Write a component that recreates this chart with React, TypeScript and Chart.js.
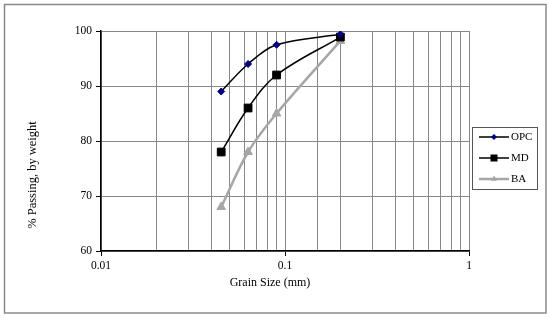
import React, { useEffect, useRef } from "react";
import { Chart, registerables } from "chart.js";

Chart.register(...registerables);

const grainSizes = [0.045, 0.063, 0.09, 0.2];
const opcValues = [89, 94, 97.5, 99.4];
const mdValues = [78, 86, 92, 98.9];
const baValues = [68, 78, 85, 98.2];
const seriesLabels = ["OPC", "MD", "BA"];
const xTitle = "Grain Size (mm)";
const yTitle = "% Passing, by weight";
const yMin = 60;
const yMax = 100;
const yStep = 10;
const xMin = 0.01;
const xMax = 1;

const FONT = "'Liberation Serif', 'Times New Roman', serif";

const isPow10 = (v: number) => Math.abs(Math.log10(v) - Math.round(Math.log10(v))) < 1e-6;

const decorPlugin = {
  id: "decor",
  beforeDraw(chart: any) {
    const ctx = chart.ctx;
    ctx.save();
    ctx.fillStyle = "#ffffff";
    ctx.fillRect(0, 0, chart.width, chart.height);
    ctx.restore();
  },
  afterDraw(chart: any) {
    const ctx = chart.ctx;
    ctx.save();
    // outer frame
    ctx.strokeStyle = "#8a8a8a";
    ctx.lineWidth = 1.5;
    ctx.strokeRect(4.5, 4.5, 541.5, 308.5);

    // axis titles
    ctx.fillStyle = "#000";
    ctx.textAlign = "center";
    ctx.textBaseline = "middle";
    ctx.font = `12px ${FONT}`;
    ctx.fillText(xTitle, 270, 283);
    ctx.save();
    ctx.translate(33, 175);
    ctx.rotate(-Math.PI / 2);
    ctx.font = `12.5px ${FONT}`;
    ctx.fillText(yTitle, 0, 0);
    ctx.restore();

    // legend box
    ctx.strokeStyle = "#555";
    ctx.lineWidth = 1;
    ctx.strokeRect(472.5, 127.5, 65, 62);
    const rows = [137, 158, 179];
    chart.data.datasets.forEach((ds: any, i: number) => {
      const y = rows[i];
      ctx.strokeStyle = ds.borderColor;
      ctx.lineWidth = ds.borderWidth;
      ctx.beginPath();
      ctx.moveTo(479, y);
      ctx.lineTo(509, y);
      ctx.stroke();
      const cx = 494;
      ctx.fillStyle = ds.pointBackgroundColor;
      ctx.beginPath();
      if (ds.pointStyle === "rectRot") {
        const r = 3;
        ctx.moveTo(cx, y - r);
        ctx.lineTo(cx + r, y);
        ctx.lineTo(cx, y + r);
        ctx.lineTo(cx - r, y);
        ctx.closePath();
      } else if (ds.pointStyle === "rect") {
        ctx.rect(cx - 3.5, y - 3.5, 7, 7);
      } else {
        const r = 3.5;
        ctx.moveTo(cx, y - r);
        ctx.lineTo(cx + r * 0.87, y + r * 0.5);
        ctx.lineTo(cx - r * 0.87, y + r * 0.5);
        ctx.closePath();
      }
      ctx.fill();
      ctx.fillStyle = "#000";
      ctx.font = `11px ${FONT}`;
      ctx.textAlign = "left";
      ctx.textBaseline = "middle";
      ctx.fillText(ds.label, 511, y);
    });
    ctx.restore();
  },
};

export default function App() {
  const ref = useRef<HTMLCanvasElement | null>(null);

  useEffect(() => {
    document.body.style.margin = "0";
    const canvas = ref.current;
    if (!canvas) return;
    const mk = (vals: number[]) => grainSizes.map((x, i) => ({ x, y: vals[i] }));
    const chart = new Chart(canvas, {
      type: "line",
      data: {
        datasets: [
          {
            label: seriesLabels[0],
            data: mk(opcValues),
            borderColor: "#000000",
            borderWidth: 1.5,
            pointStyle: "rectRot",
            pointRadius: 3.5,
            pointBackgroundColor: "#000080",
            pointBorderColor: "#000080",
            pointBorderWidth: 1,
            tension: 0.35,
          },
          {
            label: seriesLabels[1],
            data: mk(mdValues),
            borderColor: "#000000",
            borderWidth: 1.5,
            pointStyle: "rect",
            pointRadius: 5.5,
            pointBackgroundColor: "#000000",
            pointBorderColor: "#000000",
            pointBorderWidth: 1,
            tension: 0.35,
          },
          {
            label: seriesLabels[2],
            data: mk(baValues),
            borderColor: "#a6a6a6",
            borderWidth: 2.5,
            pointStyle: "triangle",
            pointRadius: 5,
            pointBackgroundColor: "#a6a6a6",
            pointBorderColor: "#a6a6a6",
            pointBorderWidth: 1,
            tension: 0.35,
          },
        ] as any,
      },
      options: {
        animation: false,
        responsive: false,
        devicePixelRatio: 1,
        layout: { padding: { left: 0, top: 31, right: 81, bottom: 0 } },
        plugins: { legend: { display: false }, tooltip: { enabled: false } },
        scales: {
          x: {
            type: "logarithmic",
            min: xMin,
            max: xMax,
            afterFit: (s: any) => {
              s.height = 67;
            },
            grid: {
              color: "#888888",
              lineWidth: 1,
              tickLength: 5,
              tickColor: (c: any) => (c.tick && isPow10(c.tick.value) ? "#000" : "rgba(0,0,0,0)"),
            },
            border: { color: "#000", width: 1.5 },
            ticks: {
              autoSkip: false,
              maxRotation: 0,
              padding: 3,
              color: "#000",
              font: { family: FONT, size: 11.5 },
              callback: (v: any) => (isPow10(Number(v)) ? String(Number(v)) : ""),
            },
          },
          y: {
            type: "linear",
            min: yMin,
            max: yMax,
            afterFit: (s: any) => {
              s.width = 101;
            },
            grid: { color: "#888888", lineWidth: 1, tickLength: 5, tickColor: "#000" },
            border: { color: "#000", width: 1.5 },
            ticks: {
              stepSize: yStep,
              padding: 4,
              color: "#000",
              font: { family: FONT, size: 11.5 },
            },
          },
        },
      },
      plugins: [decorPlugin],
    });
    return () => chart.destroy();
  }, []);

  return <canvas ref={ref} width={550} height={318} style={{ display: "block", width: 550, height: 318 }} />;
}
